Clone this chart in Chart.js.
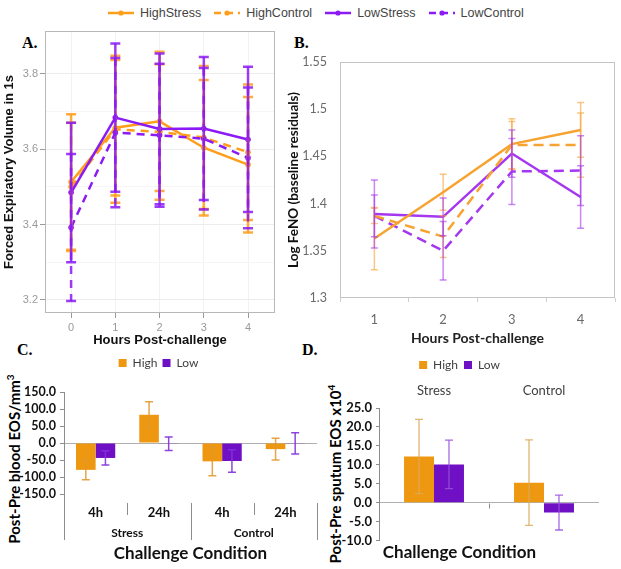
<!DOCTYPE html>
<html>
<head>
<meta charset="utf-8">
<script src="https://cdn.jsdelivr.net/npm/chart.js@4.4.1/dist/chart.umd.min.js"></script>
<style>
body { margin: 0; background: #fff; width: 621px; height: 569px; position: relative; overflow: hidden; font-family: 'Liberation Sans', Arial, sans-serif; }
canvas { position: absolute; }
.letter { position: absolute; font-family: 'Liberation Serif', 'DejaVu Serif', serif; font-weight: bold; font-size: 16px; color: #000; }
#topLegend { position: absolute; top: 6px; left: 108px; display: flex; gap: 13px; font-size: 12.5px; color: #444; }
#topLegend span { display: flex; align-items: center; gap: 6px; }
.rot { position: absolute; transform: translate(-50%, -50%) rotate(-90deg); white-space: nowrap; font-family: Lato, sans-serif; font-weight: bold; font-size: 15px; color: #000; }
.rot sup { font-size: 10px; }
</style>
</head>
<body>

<div id="topLegend"></div>
<div class="letter" style="left:22px;top:34px">A.</div>
<div class="letter" style="left:294px;top:34px">B.</div>
<div class="letter" style="left:17px;top:341px">C.</div>
<div class="letter" style="left:302px;top:341px">D.</div>
<div class="rot" style="left:13px;top:459px">Post-Pre blood EOS/mm<sup>3</sup></div>
<div class="rot" style="left:334px;top:474px">Post-Pre sputum EOS x10<sup>4</sup></div>

<canvas id="chartA" width="290" height="328" style="left:0;top:22px"></canvas>
<canvas id="chartB" width="336" height="328" style="left:285px;top:22px"></canvas>
<canvas id="chartC" width="320" height="217" style="left:0;top:352px"></canvas>
<canvas id="chartD" width="301" height="217" style="left:320px;top:352px"></canvas>

<script>
// ---- data ----
const seriesNames = ['HighStress', 'HighControl', 'LowStress', 'LowControl'];

// A. FEV1
const fevHours = [0, 1, 2, 3, 4];
const fevTicks = [3.2, 3.4, 3.6, 3.8];
const fevMinor = [3.3, 3.5, 3.7];
const fevHighStress  = [3.513, 3.657, 3.674, 3.604, 3.559];
const fevHighControl = [3.500, 3.653, 3.646, 3.631, 3.592];
const fevLowStress   = [3.485, 3.684, 3.654, 3.655, 3.626];
const fevLowControl  = [3.392, 3.644, 3.637, 3.628, 3.577];
const fevHighStressErr  = [0.180, 0.180, 0.185, 0.180, 0.180];
const fevHighControlErr = [0.170, 0.195, 0.180, 0.190, 0.180];
const fevLowStressErr   = [0.185, 0.197, 0.200, 0.190, 0.193];
const fevLowControlErr  = [0.195, 0.198, 0.190, 0.188, 0.187];

// B. FeNO
const fenoHours = ['1', '2', '3', '4'];
const fenoHighStress  = [1.363, 1.412, 1.463, 1.478];
const fenoHighControl = [1.387, 1.365, 1.462, 1.462];
const fenoLowStress   = [1.389, 1.386, 1.453, 1.407];
const fenoLowControl  = [1.387, 1.350, 1.434, 1.435];
const fenoHighStressErr  = [0.033, 0.019, 0.027, 0.029];
const fenoHighControlErr = [0.008, 0.022, 0.025, 0.034];
const fenoLowStressErr   = [0.036, 0.020, 0.025, 0.033];
const fenoLowControlErr  = [0.022, 0.031, 0.035, 0.037];

// C. blood EOS
const bloodTimes = ['4h', '24h', '4h', '24h'];
const bloodGroups = ['Stress', 'Control'];
const bloodHigh = [-79, 83, -54, -18];
const bloodLow  = [-44, -2, -53, -1];
const bloodHighErr = [29, 38, 42, 32];
const bloodLowErr  = [21, 20, 33, 31];

// D. sputum EOS
const sputumGroups = ['Stress', 'Control'];
const sputumHigh = [12.2, 5.3];
const sputumLow  = [10.1, -2.6];
const sputumHighErr = [9.8, 11.3];
const sputumLowErr  = [6.4, 4.6];

const ORANGE = 'rgb(255,158,27)', PURPLE = 'rgb(139,26,245)';
const ORANGE_B = 'rgb(246,163,50)', PURPLE_B = 'rgb(165,55,240)';
const BAR_ORANGE = 'rgb(238,152,18)', BAR_PURPLE = 'rgb(112,16,196)';

Chart.defaults.animation = false;
Chart.defaults.responsive = false;
Chart.defaults.devicePixelRatio = 1;
Chart.defaults.plugins.tooltip.enabled = false;

// ---- top legend ----
const legendColors = [ORANGE, ORANGE, PURPLE, PURPLE];
const legendDashed = [false, true, false, true];
const legendBox = document.getElementById('topLegend');
seriesNames.forEach((name, i) => {
    const dash = legendDashed[i] ? 'stroke-dasharray="7 5"' : '';
    legendBox.insertAdjacentHTML('beforeend',
        `<span><svg width="26" height="10"><line x1="0" y1="5" x2="26" y2="5" stroke="${legendColors[i]}" stroke-width="2.5" ${dash}/>` +
        `<circle cx="13" cy="5" r="2.6" fill="${legendColors[i]}"/></svg>${name}</span>`);
});

// ---- plugins ----
const frame = {
    id: 'frame',
    beforeDatasetsDraw(chart, args, opts) {
        if (!opts.color) return;
        const {ctx, chartArea: a} = chart;
        ctx.save();
        ctx.strokeStyle = opts.color;
        ctx.lineWidth = 1;
        ctx.strokeRect(Math.round(a.left) + 0.5, Math.round(a.top) + 0.5, Math.round(a.width) - 1, Math.round(a.height) - 1);
        ctx.restore();
    }
};

const errorBars = {
    id: 'errorBars',
    afterDatasetsDraw(chart) {
        const ctx = chart.ctx;
        chart.data.datasets.forEach((ds, di) => {
            if (!ds.errors) return;
            const meta = chart.getDatasetMeta(di);
            const y = chart.scales[meta.yAxisID];
            ctx.save();
            ctx.strokeStyle = ds.errColor;
            ctx.lineWidth = ds.errWidth;
            ctx.setLineDash(ds.errDash || []);
            meta.data.forEach((el, i) => {
                const raw = ds.data[i];
                const v = typeof raw === 'object' ? raw.y : raw;
                const top = y.getPixelForValue(v + ds.errors[i]);
                const bot = y.getPixelForValue(v - ds.errors[i]);
                const x = el.x, c = ds.errCap;
                ctx.beginPath();
                ctx.moveTo(x, top); ctx.lineTo(x, bot);
                ctx.stroke();
                ctx.setLineDash([]);
                ctx.beginPath();
                ctx.moveTo(x - c, top); ctx.lineTo(x + c, top);
                ctx.moveTo(x - c, bot); ctx.lineTo(x + c, bot);
                ctx.stroke();
                ctx.setLineDash(ds.errDash || []);
            });
            ctx.restore();
        });
    }
};

// multi-level category dividers for C
const bloodDividers = {
    id: 'bloodDividers',
    afterDraw(chart) {
        const {ctx, chartArea: {bottom}} = chart;
        const x = chart.scales.x;
        const n = x.ticks.length, step = (x.right - x.left) / n;
        ctx.save();
        ctx.strokeStyle = '#8c8c8c';
        ctx.lineWidth = 1;
        ctx.beginPath();
        for (let i = 0; i <= n; i++) {
            const px = Math.round(x.left + step * i) + 0.5;
            if (i % 2 === 0) { ctx.moveTo(px, i === 0 ? bottom : bottom + 9); ctx.lineTo(px, bottom + 46); }
            else { ctx.moveTo(px, bottom + 9); ctx.lineTo(px, bottom + 21); }
        }
        ctx.stroke();
        ctx.restore();
    }
};

const sputumDividers = {
    id: 'sputumDividers',
    afterDraw(chart) {
        const {ctx} = chart;
        const x = chart.scales.x, y = chart.scales.y;
        const y0 = Math.round(y.getPixelForValue(0)) + 0.5;
        const px = Math.round((x.left + x.right) / 2) + 0.5;
        ctx.save();
        ctx.strokeStyle = '#8c8c8c';
        ctx.beginPath();
        ctx.moveTo(px, y0); ctx.lineTo(px, y0 + 5);
        ctx.stroke();
        ctx.restore();
    }
};

// ---- A ----
function fevSet(label, vals, errs, color, dashed, order) {
    return {
        label, order,
        data: fevHours.map((h, i) => ({x: h, y: vals[i]})),
        borderColor: color, backgroundColor: color,
        borderWidth: 2.5, borderDash: dashed ? [8, 6] : [],
        pointRadius: 2.8, pointBorderWidth: 0, tension: 0,
        errors: errs, errColor: color.replace('rgb', 'rgba').replace(')', ',0.85)'),
        errWidth: 2.5, errCap: 5, errDash: dashed ? [8, 6] : null
    };
}

const sansA = {family: "'Liberation Sans', Arial, sans-serif"};
new Chart(document.getElementById('chartA'), {
    type: 'line',
    data: {
        datasets: [
            fevSet('HighStress', fevHighStress, fevHighStressErr, ORANGE, false, 3),
            fevSet('HighControl', fevHighControl, fevHighControlErr, ORANGE, true, 2),
            fevSet('LowStress', fevLowStress, fevLowStressErr, PURPLE, false, 1),
            fevSet('LowControl', fevLowControl, fevLowControlErr, PURPLE, true, 0)
        ]
    },
    options: {
        layout: {padding: {top: 9, right: 15, left: 0, bottom: 0}},
        plugins: {legend: {display: false}, frame: {color: '#b8b8b8'}},
        scales: {
            x: {
                type: 'linear', min: -0.59, max: 4.61,
                afterBuildTicks: s => { s.ticks = fevHours.map(v => ({value: v})); },
                afterFit: s => { s.height = 37; },
                ticks: {color: '#9a9a9a', font: {...sansA, size: 11}, padding: 3, autoSkip: false},
                grid: {color: '#f2f2f2', tickColor: '#9a9a9a', tickLength: 5},
                border: {display: false},
                title: {display: true, text: 'Hours Post-challenge', color: '#111',
                        font: {...sansA, size: 13, weight: 'bold'}, padding: {top: 0, bottom: 2}}
            },
            y: {
                min: 3.165, max: 3.914,
                afterBuildTicks: s => { s.ticks = fevTicks.concat(fevMinor).sort().map(v => ({value: v})); },
                afterFit: s => { s.width = 45; },
                ticks: {color: '#9a9a9a', font: {...sansA, size: 11}, padding: 2, autoSkip: false,
                        callback: v => fevTicks.includes(v) ? v.toFixed(1) : ''},
                grid: {
                    color: c => fevTicks.includes(c.tick.value) ? '#ececec' : '#f6f6f6',
                    tickColor: c => fevTicks.includes(c.tick.value) ? '#9a9a9a' : 'rgba(0,0,0,0)',
                    tickLength: 5
                },
                border: {display: false},
                title: {display: true, text: 'Forced Expiratory Volume in 1s', color: '#111',
                        font: {...sansA, size: 13, weight: 'bold'}, padding: {top: 2, bottom: 0}}
            }
        }
    },
    plugins: [frame, errorBars]
});

// ---- B ----
function fenoSet(label, vals, errs, color, dashed, order) {
    return {
        label, order, data: vals,
        borderColor: color, backgroundColor: color,
        borderWidth: 2.5, borderDash: dashed ? [10, 6] : [],
        pointRadius: 0, tension: 0,
        errors: errs, errColor: color.replace('rgb', 'rgba').replace(')', ',0.6)'),
        errWidth: 1.5, errCap: 3.5
    };
}

const lato = {family: 'Lato, sans-serif'};
new Chart(document.getElementById('chartB'), {
    type: 'line',
    data: {
        labels: fenoHours,
        datasets: [
            fenoSet('HighStress', fenoHighStress, fenoHighStressErr, ORANGE_B, false, 1),
            fenoSet('HighControl', fenoHighControl, fenoHighControlErr, ORANGE_B, true, 0),
            fenoSet('LowStress', fenoLowStress, fenoLowStressErr, PURPLE_B, false, 3),
            fenoSet('LowControl', fenoLowControl, fenoLowControlErr, PURPLE_B, true, 2)
        ]
    },
    options: {
        layout: {padding: {top: 40, right: 6, left: 0, bottom: 0}},
        plugins: {legend: {display: false}, frame: {color: '#c4c4c4'}},
        scales: {
            x: {
                offset: true,
                afterFit: s => { s.height = 52; },
                ticks: {color: '#6a6a6a', font: {...lato, size: 13}, padding: 10},
                grid: {offset: true, drawOnChartArea: false, tickLength: 4, tickColor: '#d0d0d0'},
                border: {display: false},
                title: {display: true, text: 'Hours Post-challenge', color: '#222',
                        font: {...lato, size: 14, weight: 'bold'}, padding: {top: 0, bottom: 3}}
            },
            y: {
                min: 1.3, max: 1.55,
                afterFit: s => { s.width = 55; },
                ticks: {stepSize: 0.05, color: '#6a6a6a', font: {...lato, size: 12.5}, padding: 13, autoSkip: false,
                        callback: v => String(+v.toFixed(2))},
                grid: {display: false, drawTicks: false},
                border: {display: false},
                title: {display: true, text: 'Log FeNO (baseline residuals)', color: '#111',
                        font: {...lato, size: 13.5, weight: 'bold'}, padding: {top: 1, bottom: 0}}
            }
        }
    },
    plugins: [frame, errorBars]
});

// ---- C ----
const zeroGrid = c => c.tick.value === 0 ? '#b0b0b0' : 'rgba(0,0,0,0)';
const barLegend = {
    labels: {boxWidth: 8, boxHeight: 8, color: '#404040', font: {...lato, size: 12}, padding: 5}
};

new Chart(document.getElementById('chartC'), {
    type: 'bar',
    data: {
        labels: bloodTimes,
        datasets: [
            {label: 'High', data: bloodHigh, backgroundColor: BAR_ORANGE,
             errors: bloodHighErr, errColor: 'rgba(225,150,40,0.85)', errWidth: 1.5, errCap: 4},
            {label: 'Low', data: bloodLow, backgroundColor: BAR_PURPLE,
             errors: bloodLowErr, errColor: 'rgba(130,50,220,0.9)', errWidth: 1.5, errCap: 4}
        ]
    },
    options: {
        categoryPercentage: 0.62, barPercentage: 1,
        layout: {padding: {top: 0, right: 3, left: 0, bottom: 0}},
        plugins: {
            legend: barLegend,
            subtitle: {display: true, text: '', weight: 500, padding: {top: 0, bottom: 1}, font: {size: 10}}
        },
        scales: {
            x: {
                weight: 0,
                afterFit: s => { s.height = 30; },
                ticks: {color: '#111', font: {...lato, size: 13, weight: 'bold'}, padding: 11},
                grid: {display: false, drawTicks: false},
                border: {display: false}
            },
            x2: {
                type: 'category', labels: bloodGroups, position: 'bottom', weight: 1, offset: true,
                afterFit: s => { s.height = 45; },
                ticks: {color: '#111', font: {...lato, size: 12, weight: 'bold'}, padding: 2},
                grid: {display: false, drawTicks: false},
                border: {display: false},
                title: {display: true, text: 'Challenge Condition', color: '#111',
                        font: {...lato, size: 17, weight: 'bold'}, padding: {top: 0, bottom: 5}}
            },
            y: {
                min: -150, max: 150,
                afterFit: s => { s.width = 64; },
                ticks: {stepSize: 50, autoSkip: false, color: '#111', font: {...lato, size: 12.5, weight: 'bold'}, padding: 4,
                        callback: v => v.toFixed(1)},
                grid: {color: zeroGrid, tickColor: '#8c8c8c', tickLength: 4},
                border: {color: '#8c8c8c'}
            }
        }
    },
    plugins: [errorBars, bloodDividers]
});

// ---- D ----
new Chart(document.getElementById('chartD'), {
    type: 'bar',
    data: {
        labels: sputumGroups,
        datasets: [
            {label: 'High', data: sputumHigh, backgroundColor: BAR_ORANGE,
             errors: sputumHighErr, errColor: 'rgba(220,170,90,0.85)', errWidth: 1.3, errCap: 4},
            {label: 'Low', data: sputumLow, backgroundColor: BAR_PURPLE,
             errors: sputumLowErr, errColor: 'rgba(150,80,220,0.85)', errWidth: 1.3, errCap: 4}
        ]
    },
    options: {
        categoryPercentage: 0.545, barPercentage: 1,
        layout: {padding: {top: 1, right: 22, left: 0, bottom: 0}},
        plugins: {
            legend: {labels: {...barLegend.labels, padding: 6}},
            title: {display: true, position: 'bottom', text: 'Challenge Condition', color: '#111',
                    font: {...lato, size: 17, weight: 'bold'}, padding: {top: 2, bottom: 6}}
        },
        scales: {
            x: {
                position: 'top',
                afterFit: s => { s.height = 27; },
                ticks: {color: '#404040', font: {...lato, size: 13}, padding: 9},
                grid: {display: false, drawTicks: false},
                border: {display: false}
            },
            y: {
                min: -10, max: 25,
                afterFit: s => { s.width = 59; },
                ticks: {stepSize: 5, autoSkip: false, color: '#111', font: {...lato, size: 13, weight: 'bold'}, padding: 4,
                        callback: v => v.toFixed(1)},
                grid: {color: zeroGrid, tickColor: '#8c8c8c', tickLength: 3},
                border: {color: '#8c8c8c'}
            }
        }
    },
    plugins: [errorBars, sputumDividers]
});
</script>
</body>
</html>
